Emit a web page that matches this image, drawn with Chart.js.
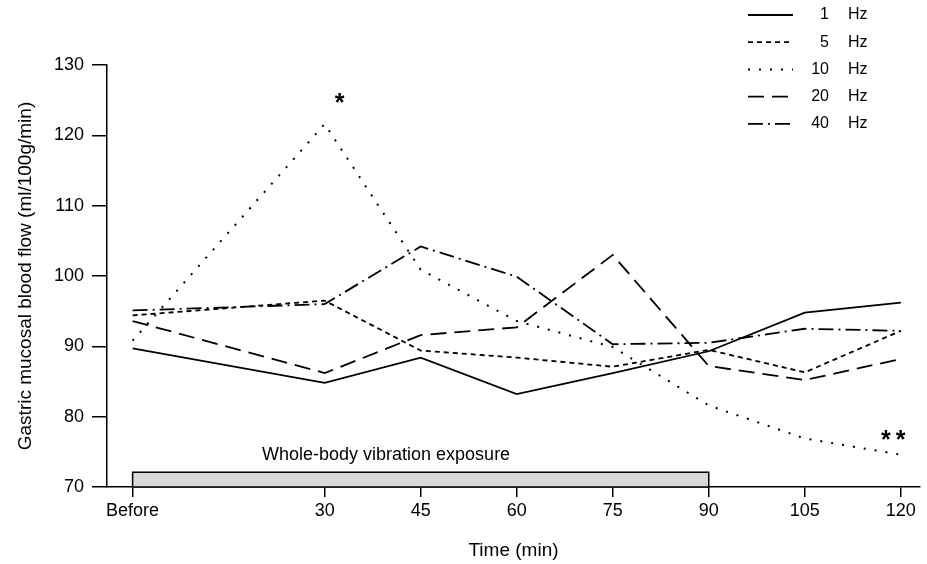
<!DOCTYPE html>
<html lang="en">
<head>
<meta charset="UTF-8">
<title>Gastric mucosal blood flow</title>
<script src="https://cdn.jsdelivr.net/npm/chart.js"></script>
<style>
  body { margin: 0; background: #fff; }
  #chart { display: block; }
</style>
</head>
<body>
<canvas id="chart" width="927" height="564"></canvas>
<script>
// time points (min), 0 = "Before"
const timePoints = [0, 30, 45, 60, 75, 90, 105, 120];
const tickValues = [0, 30, 45, 60, 75, 90, 105, 120];
const tickNames = ['Before', '30', '45', '60', '75', '90', '105', '120'];

// blood flow (ml/100g/min) for each vibration frequency
const flow1Hz  = [89.7, 84.8, 88.4, 83.2, 86.2, 89.3, 94.8, 96.2];
const flow5Hz  = [94.4, 96.5, 89.4, 88.4, 87.1, 89.5, 86.3, 92.2];
const flow10Hz = [90.8, 121.6, 100.9, 93.6, 89.9, 81.6, 76.9, 74.6];
const flow20Hz = [93.6, 86.2, 91.6, 92.7, 103.0, 87.2, 85.2, 88.2];
const flow40Hz = [95.1, 96.0, 104.2, 99.9, 90.3, 90.5, 92.5, 92.2];

const seriesNames = ['1', '5', '10', '20', '40'];

// exposure period bar
const exposureFrom = 0;
const exposureTo = 90;
const exposureTop = 72.1;

// significance marks
const markTimes = [30, 120];
const markValues = [121.6, 74.6];
const markTexts = ['*', '**'];

const FONT = "'Liberation Sans', Arial, sans-serif";

function pts(values) {
    return values.map((v, i) => ({ x: timePoints[i], y: v }));
}

const styles = [
    { dash: [], width: 1.8 },
    { dash: [5, 4], width: 1.8 },
    { dash: [2, 9], width: 2 },
    { dash: [16, 8], width: 1.8 },
    { dash: [15, 5, 2, 5], width: 1.8 }
];
const allSeries = [flow1Hz, flow5Hz, flow10Hz, flow20Hz, flow40Hz];

// exposure bar + label + asterisks + legend
const extras = {
    id: 'extras',
    beforeDatasetsDraw(chart) {
        const { ctx, scales: { x, y } } = chart;
        const x0 = x.getPixelForValue(exposureFrom);
        const x1 = x.getPixelForValue(exposureTo);
        const yt = y.getPixelForValue(exposureTop);
        const yb = y.getPixelForValue(70);
        ctx.save();
        ctx.fillStyle = '#d9d9d9';
        ctx.fillRect(x0, yt, x1 - x0, yb - yt);
        ctx.strokeStyle = '#000';
        ctx.lineWidth = 1.5;
        ctx.strokeRect(x0, yt, x1 - x0, yb - yt);
        ctx.fillStyle = '#000';
        ctx.font = '18px ' + FONT;
        ctx.textAlign = 'left';
        ctx.textBaseline = 'middle';
        ctx.fillText('Whole-body vibration exposure', 262, yt - 17);
        ctx.restore();
    },
    afterDraw(chart) {
        const { ctx, scales: { x, y } } = chart;
        ctx.save();
        ctx.fillStyle = '#000';
        ctx.font = 'bold 25px ' + FONT;
        ctx.textBaseline = 'middle';
        ctx.textAlign = 'center';
        ctx.fillText(markTexts[0], x.getPixelForValue(markTimes[0]) + 15, y.getPixelForValue(markValues[0]) - 20);
        ctx.letterSpacing = '5px';
        ctx.fillText(markTexts[1], x.getPixelForValue(markTimes[1]) - 5, y.getPixelForValue(markValues[1]) - 14);
        ctx.letterSpacing = '0px';

        // legend
        ctx.font = '16px ' + FONT;
        ctx.strokeStyle = '#000';
        chart.data.datasets.forEach((ds, i) => {
            const ry = 15 + i * 27.2;
            ctx.setLineDash(ds.borderDash);
            ctx.lineWidth = ds.borderWidth;
            ctx.beginPath();
            ctx.moveTo(748, ry);
            ctx.lineTo(793, ry);
            ctx.stroke();
            ctx.textAlign = 'right';
            ctx.fillText(seriesNames[i], 829, ry);
            ctx.textAlign = 'left';
            ctx.fillText('Hz', 848, ry);
        });
        ctx.restore();
    }
};

new Chart(document.getElementById('chart').getContext('2d'), {
    type: 'line',
    data: {
        datasets: allSeries.map((s, i) => ({
            label: seriesNames[i] + ' Hz',
            data: pts(s),
            borderColor: '#000',
            borderWidth: styles[i].width,
            borderDash: styles[i].dash,
            pointRadius: 0,
            tension: 0,
            fill: false
        }))
    },
    options: {
        responsive: false,
        animation: false,
        layout: { padding: { top: 65, right: 7, left: 0, bottom: 0 } },
        plugins: {
            legend: { display: false },
            tooltip: { enabled: false }
        },
        scales: {
            x: {
                type: 'linear',
                min: -4,
                max: 123,
                afterFit: (s) => { s.height = 77; },
                afterBuildTicks: (s) => { s.ticks = tickValues.map(v => ({ value: v })); },
                border: { color: '#000', width: 1.5 },
                grid: { drawOnChartArea: false, color: '#000', tickLength: 10, lineWidth: 1.5 },
                ticks: {
                    color: '#000',
                    padding: 3,
                    maxRotation: 0,
                    font: { family: FONT, size: 18 },
                    callback: (v) => tickNames[tickValues.indexOf(v)]
                },
                title: {
                    display: true,
                    text: 'Time (min)',
                    color: '#000',
                    font: { family: FONT, size: 19 },
                    padding: { top: 0, bottom: 2 }
                }
            },
            y: {
                min: 70,
                max: 130,
                afterFit: (s) => { s.width = 107; },
                border: { color: '#000', width: 1.5 },
                grid: { drawOnChartArea: false, color: '#000', tickLength: 15, lineWidth: 1.5 },
                ticks: {
                    stepSize: 10,
                    color: '#000',
                    padding: 8,
                    font: { family: FONT, size: 18 }
                },
                title: {
                    display: true,
                    text: 'Gastric mucosal blood flow (ml/100g/min)',
                    color: '#000',
                    font: { family: FONT, size: 19 },
                    padding: { top: 14, bottom: 0 }
                }
            }
        }
    },
    plugins: [extras]
});
</script>
</body>
</html>
